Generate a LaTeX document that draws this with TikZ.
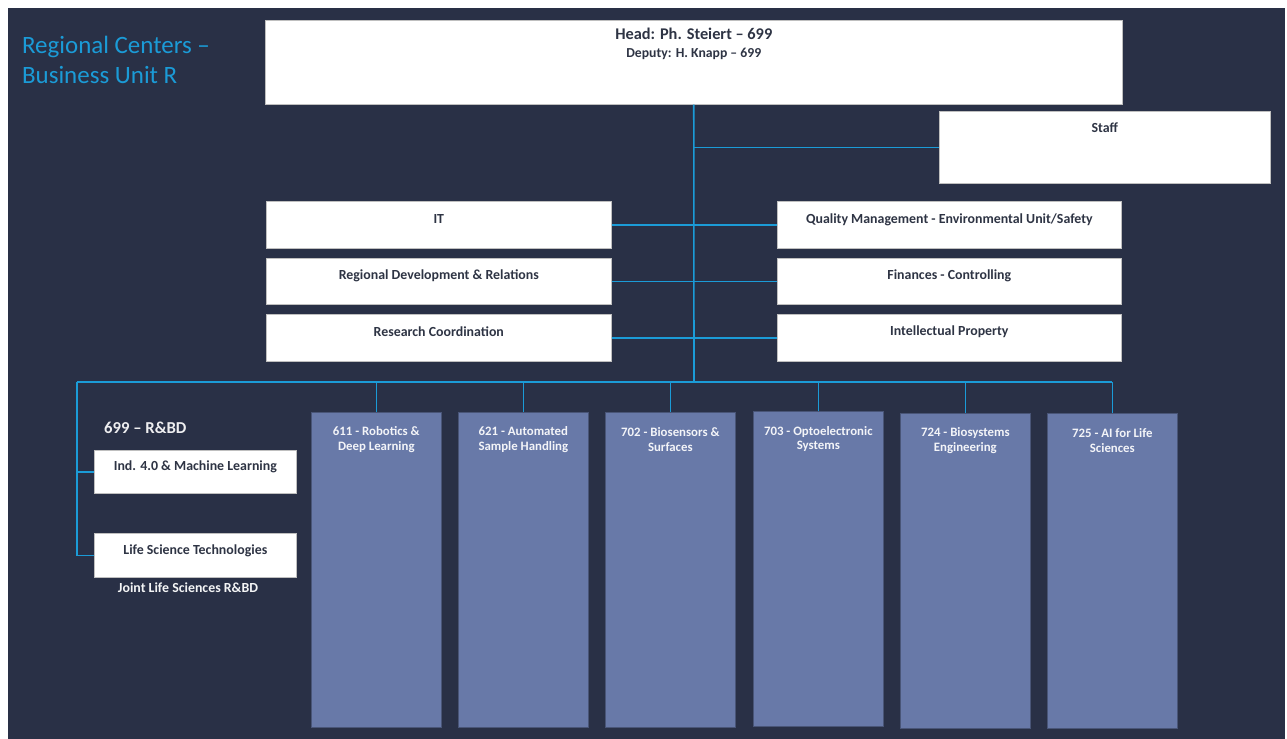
\documentclass[tikz,border=0pt]{standalone}
\usepackage{fontspec}
\setmainfont{Carlito}
\usetikzlibrary{positioning}
\definecolor{bgnavy}{HTML}{293046}
\definecolor{linkblue}{HTML}{1B9BD7}
\definecolor{unitblue}{HTML}{6879A8}
\definecolor{boxink}{HTML}{2E3444}

\begin{document}
\begin{tikzpicture}[
	x=0.02cm, y=-0.02cm,
	every node/.style={inner sep=1pt, font=\bfseries\fontsize{7.9}{8.5}\selectfont},
	whitebox/.style={draw=gray!50, fill=white, anchor=north west, line width=0.4pt},
	unitbox/.style={draw=bgnavy!50!unitblue, fill=unitblue, anchor=north west,
		minimum width=2.6cm, minimum height=6.3cm, line width=0.4pt},
	boxtext/.style={anchor=center, yshift=-#1, text=boxink, align=center},
	boxtext/.default=0.37cm,
	unittext/.style={anchor=center, yshift=-0.56cm, text=white!92!unitblue, align=center,
		font=\bfseries\fontsize{7.3}{8.5}\selectfont},
	link/.style={draw=linkblue, line width=0.9pt},
	]
	
	\useasboundingbox (0,0) rectangle (1287,739);
	\fill[bgnavy] (8,8) rectangle (1285,739);
	
	\node[anchor=west, align=left, text=linkblue, font=\fontsize{14.2}{16.6}\selectfont] (title) at (20,60)
		{Regional Centers --\\Business Unit R};
	
	% management
	\node[whitebox, minimum width=17.14cm, minimum height=1.68cm,
		label={[boxtext=0.47cm, font=\bfseries\fontsize{9.3}{10.2}\selectfont]north:Head: Ph. Steiert -- 699\\{\fontsize{7.8}{8}\selectfont Deputy: H. Knapp -- 699}}] (head) at (265,20) {};
	\node[whitebox, minimum width=6.62cm, minimum height=1.44cm,
		label={[boxtext=0.33cm]north:Staff}] (staff) at (939,111) {};
	
	\node[whitebox, minimum width=6.9cm, minimum height=0.94cm,
		label={[boxtext]north:IT}] (it) at (266,201) {};
	\node[whitebox, minimum width=6.9cm, minimum height=0.92cm,
		label={[boxtext=0.35cm]north:Regional Development \& Relations}] (regdev) at (266,258) {};
	\node[whitebox, minimum width=6.9cm, minimum height=0.94cm,
		label={[boxtext=0.35cm]north:Research Coordination}] (rescoord) at (266,314) {};
	\node[whitebox, minimum width=6.88cm, minimum height=0.94cm,
		label={[boxtext]north:Quality Management - Environmental Unit/Safety}] (quality) at (777,201) {};
	\node[whitebox, minimum width=6.88cm, minimum height=0.92cm,
		label={[boxtext=0.35cm]north:Finances - Controlling}] (finances) at (777,258) {};
	\node[whitebox, minimum width=6.88cm, minimum height=0.94cm,
		label={[boxtext=0.35cm]north:Intellectual Property}] (ip) at (777,314) {};
	
	% R&BD group
	\node[anchor=west, text=white!92!bgnavy, font=\bfseries\fontsize{9.5}{10}\selectfont] (rbd) at (102,428) {699 -- R\&BD};
	\node[whitebox, minimum width=4.04cm, minimum height=0.86cm,
		label={[boxtext=0.33cm]north:Ind. 4.0 \& Machine Learning}] (ind) at (94,450) {};
	\node[whitebox, minimum width=4.04cm, minimum height=0.88cm,
		label={[boxtext=0.35cm]north:Life Science Technologies}] (lst) at (94,533) {};
	\node[text=white!95!bgnavy] (joint) at (188,588) {Joint Life Sciences R\&BD};
	
	% units
	\node[unitbox, label={[unittext]north:611 - Robotics \&\\Deep Learning}] (u611) at (311,412) {};
	\node[unitbox, label={[unittext]north:621 - Automated\\Sample Handling}] (u621) at (458,412) {};
	\node[unitbox, label={[unittext]north:702 - Biosensors \&\\Surfaces}] (u702) at (605,412) {};
	\node[unitbox, label={[unittext]north:703 - Optoelectronic\\Systems}] (u703) at (753,411) {};
	\node[unitbox, label={[unittext]north:724 - Biosystems\\Engineering}] (u724) at (900,413) {};
	\node[unitbox, label={[unittext]north:725 - AI for Life\\Sciences}] (u725) at (1047,413) {};
	
	% connectors
	\coordinate (bus) at (694,382);
	\coordinate (busleft) at (77,382);
	\coordinate (busright) at (u725.north |- bus);
	\draw[link] (head.south) -- (bus);
	\draw[link] (head.south |- staff.west) -- (staff.west);
	\draw[link] (it.east) -- (quality.west);
	\draw[link] (regdev.east) -- (finances.west);
	\draw[link] (rescoord.east) -- (ip.west);
	\draw[link] (busleft) -- (busright);
	\foreach \u in {u611, u621, u702, u703, u724, u725}
		\draw[link] (\u.north |- bus) -- (\u.north);
	\draw[link] (busleft) -- (busleft |- lst.west) -- (lst.west);
	\draw[link] (busleft |- ind.west) -- (ind.west);
	
\end{tikzpicture}
\end{document}
